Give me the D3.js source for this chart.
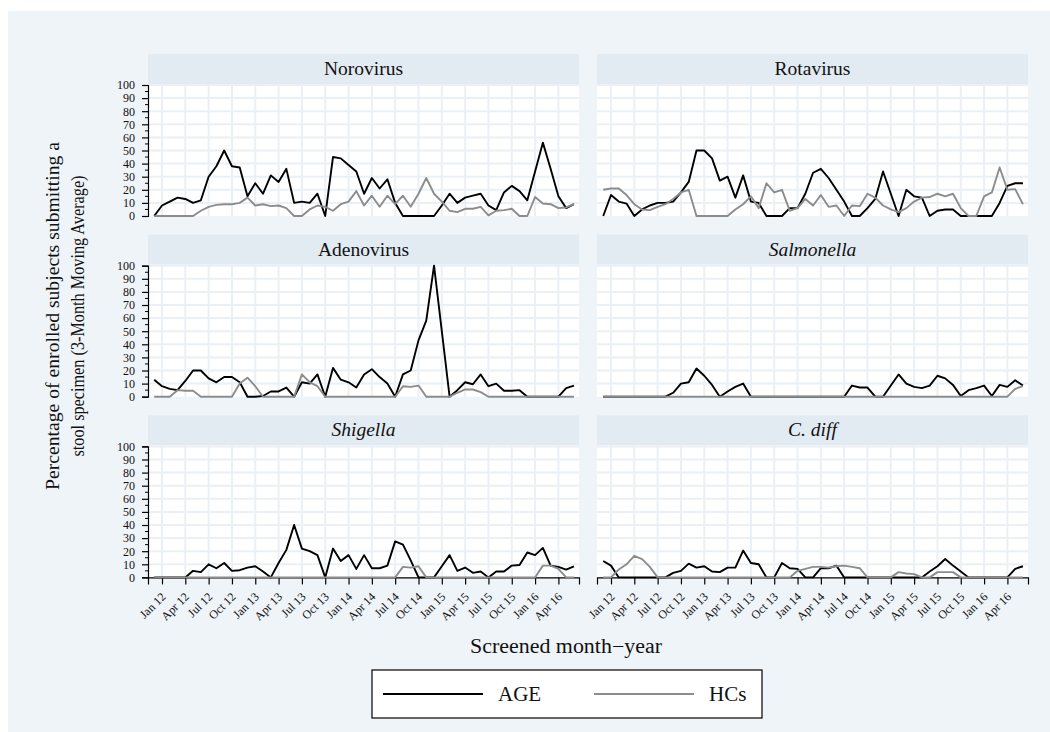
<!DOCTYPE html>
<html>
<head>
<meta charset="utf-8">
<script src="https://cdn.jsdelivr.net/npm/d3@7"></script>
<style>
  body { margin: 0; background: #fff; }
  svg { display: block; font-family: "Liberation Serif", "DejaVu Serif", serif; }
</style>
</head>
<body>
<div id="chart"></div>
<script>
// months Dec 2011 .. Jun 2016 (index 0 = Dec 11)
const months = ['Dec 11',
  'Jan 12','Feb 12','Mar 12','Apr 12','May 12','Jun 12','Jul 12','Aug 12','Sep 12','Oct 12','Nov 12','Dec 12',
  'Jan 13','Feb 13','Mar 13','Apr 13','May 13','Jun 13','Jul 13','Aug 13','Sep 13','Oct 13','Nov 13','Dec 13',
  'Jan 14','Feb 14','Mar 14','Apr 14','May 14','Jun 14','Jul 14','Aug 14','Sep 14','Oct 14','Nov 14','Dec 14',
  'Jan 15','Feb 15','Mar 15','Apr 15','May 15','Jun 15','Jul 15','Aug 15','Sep 15','Oct 15','Nov 15','Dec 15',
  'Jan 16','Feb 16','Mar 16','Apr 16','May 16','Jun 16'];
const tickLabels = ['Jan 12','Apr 12','Jul 12','Oct 12','Jan 13','Apr 13','Jul 13','Oct 13','Jan 14',
  'Apr 14','Jul 14','Oct 14','Jan 15','Apr 15','Jul 15','Oct 15','Jan 16','Apr 16'];
const yTicks = [0,10,20,30,40,50,60,70,80,90,100];

const pathogens = ['Norovirus','Rotavirus','Adenovirus','Salmonella','Shigella','C. diff'];
const italic = ['Salmonella','Shigella','C. diff'];

const noroAGE = [0,8,11,14,13,10,12,30,38,50,38,37,15,25,17,31,26,36,10,11,10,17,0,45,44,39,34,17,29,21,28,10,
  0,0,0,0,0,8,17,10,14,15.5,17,8,4.5,18,23,19,12,34,56,36,15,6,9];
const noroHC = [0,0,0,0,0,0,4,7,8.5,9,9,10,14,8,9,7.5,8,6,0,0,5,8,7,4,9,11,19,8,15.5,7,15.5,9,15.5,7,17,29,
  17,11,4,3,5.5,5.5,7,0.5,4,4.5,5.5,0,0,14.5,9.5,9,6,6.5,9];
const rotaAGE = [0,16,11,9.5,0,5,8,10,10,11,18,26,50,50,44,27,30,14,31,11,10,0,0,0,6,6,17,33,36,29,20,11,
  0,0,6,13,34,17,0,20,15,14,0,4,5,5,0,0,0,0,0,10,23,25,25];
const rotaHC = [20,21,21,16,9,5,4.5,7,9,13,18,20,0,0,0,0,0,5,9,15,6,25,18,20,4,6,13,8,16,7,8,0,8,7.5,17,14,
  8,5,3,6,11,14,14.5,17,15,17,6,0,0,15,18,37,20,20.5,9];
const adenoAGE = [13,8,6,5,12,20,20,14,11,15,15,11,0,0,0.5,4,4,7,0,11,10,17,0,22,13,11,7,17,21,15,10,0,
  17,20,43,58,100,50,0,5,11,9.5,17,8,10,4.5,4.5,5,0,0,0,0,0,6.5,8.5];
const adenoHC = [0,0,0,5,4.5,4.5,0,0,0,0,0,10,14.5,8,0,0,0,0,0,17,11,8,0,0,0,0,0,0,0,0,0,0,8,7.5,8.5,0,
  0,0,0,3,5.5,5.5,3.5,0,0,0,0,0,0,0,0,0,0,0,0];
const salmAGE = [0,0,0,0,0,0,0,0,0,3,10,11,21.5,16,9,0,4,7.5,10,0,0,0,0,0,0,0,0,0,0,0,0,0,8.5,7,7,0,0,
  8.5,17,10,7.5,6.5,8.5,16,14,9,0.5,5,6.5,8.5,0.5,9,7.5,12.5,8.5];
const salmHC = [0,0,0,0,0,0,0,0,0,0,0,0,0,0,0,0,0,0,0,0,0,0,0,0,0,0,0,0,0,0,0,0,0,0,0,0,0,0,0,0,0,0,0,0,
  0,0,0,0,0,0,0,0,0,6,8];
const shigAGE = [0,0,0,0,0,5,4,10,7,11,5,5.5,7.5,8.5,4.5,0,11,21,40,22,20,17,0,22,12.5,17,6.5,17,7,7,9,
  27.5,25,13,0,0,0,8.5,17,5,7.5,3.5,4.5,0,4.5,4.5,9,9.5,19,17,22.5,9,8,6,8.5];
const shigHC = [0,0,0,0,0,0,0,0,0,0,0,0,0,0,0,0,0,0,0,0,0,0,0,0,0,0,0,0,0,0,0,0,8,7.5,8.5,0,0,0,0,0,0,0,
  0,0,0,0,0,0,0,0,9,9,6.5,0,0];
const cdiffAGE = [12.5,9,0,0,0,0,0,0,0,3.5,5,10.5,7.5,8.5,4.5,4,7.5,7.5,20.5,11,10,0,0,11,7,6.5,0,0,7,7,
  9,0,0,0,0,0,0,0,0,0,0,0,4.5,8.5,14,9,4.5,0,0,0,0,0,0,6.5,8.5];
const cdiffHC = [0,0,6,10,16.5,14,8,0,0,0,0,0,0,0,0,0,0,0,0,0,0,0,0,0,0,5,6.5,8,8,7.5,8.5,9,8,7,0,0,0,0,
  4,3,2.5,0,0,4,4,4,0,0,0,0,0,0,0,0,0];

const ageSeries = [noroAGE, rotaAGE, adenoAGE, salmAGE, shigAGE, cdiffAGE];
const hcSeries = [noroHC, rotaHC, adenoHC, salmHC, shigHC, cdiffHC];

const W = 1050, H = 732;
const colX = [148, 597];
const panelW = 431;
const rowTop = [84, 264.7, 445.4];
const stripH = 30;
const plotH = 132;

const svg = d3.select('#chart').append('svg')
  .attr('width', W).attr('height', H);

svg.append('rect')
  .attr('x', 8).attr('y', 11).attr('width', W - 8).attr('height', H - 11)
  .attr('fill', '#eff4f8');

const x = d3.scaleLinear().domain([-0.8, 54.65]).range([0, panelW]);
const y = d3.scaleLinear().domain([0, 100]).range([plotH, 1]);
const tickIdx = tickLabels.map(t => months.indexOf(t));

const line = d3.line()
  .x((d, i) => x(i))
  .y(d => y(d));

pathogens.forEach((name, p) => {
  const r = Math.floor(p / 2), c = p % 2;
  const g = svg.append('g').attr('transform', `translate(${colX[c]},${rowTop[r]})`);

  // strip
  g.append('rect').attr('x', 0).attr('y', -stripH).attr('width', panelW).attr('height', stripH)
    .attr('fill', '#e2eaf2');
  g.append('text').attr('x', panelW / 2).attr('y', -9)
    .attr('text-anchor', 'middle')
    .style('font-size', '19.5px')
    .style('font-style', italic.includes(name) ? 'italic' : 'normal')
    .attr('fill', '#111')
    .text(name);

  // plot area
  g.append('rect').attr('x', 0).attr('y', 0).attr('width', panelW).attr('height', plotH)
    .attr('fill', '#fff');

  // grid
  g.selectAll('.hg').data(yTicks.slice(1)).enter().append('line')
    .attr('x1', 0).attr('x2', panelW)
    .attr('y1', d => y(d)).attr('y2', d => y(d))
    .attr('stroke', '#eaf0f5').attr('stroke-width', 2);
  g.selectAll('.vg').data(tickIdx).enter().append('line')
    .attr('x1', d => x(d)).attr('x2', d => x(d))
    .attr('y1', 0).attr('y2', plotH)
    .attr('stroke', '#eaf0f5').attr('stroke-width', 2);

  // y axis on left column
  if (c === 0) {
    const ya = g.append('g')
      .call(d3.axisLeft(y).tickValues(yTicks).tickSize(6).tickPadding(7));
    ya.select('.domain').attr('stroke', '#000').attr('stroke-width', 1.2);
    ya.selectAll('.tick line').attr('stroke', '#000').attr('stroke-width', 1.2);
    ya.selectAll('text').style('font-size', '12px').attr('fill', '#111')
      .style('font-family', '"Liberation Serif", serif');
    // minor ticks
    g.selectAll('.ym').data([5,15,25,35,45,55,65,75,85,95]).enter().append('line')
      .attr('x1', -3).attr('x2', 0)
      .attr('y1', d => y(d)).attr('y2', d => y(d))
      .attr('stroke', '#000').attr('stroke-width', 1);
  }

  // x axis on bottom row
  if (r === 2) {
    const xa = g.append('g').attr('transform', `translate(0,${y(0)})`)
      .call(d3.axisBottom(x).tickValues(tickIdx).tickSize(7)
        .tickFormat((d, i) => tickLabels[i]));
    xa.select('.domain').attr('stroke', '#000').attr('stroke-width', 1.2);
    xa.selectAll('.tick line').attr('stroke', '#000').attr('stroke-width', 1.2);
    xa.selectAll('text')
      .style('font-size', '12px').attr('fill', '#111')
      .style('font-family', '"Liberation Serif", serif')
      .attr('text-anchor', 'end')
      .attr('dy', null)
      .attr('y', 0)
      .attr('transform', 'translate(4,20) rotate(-45)');
  }

  g.append('path').datum(ageSeries[p])
    .attr('fill', 'none').attr('stroke', '#000').attr('stroke-width', 1.9)
    .attr('stroke-linejoin', 'round')
    .attr('d', line);
  g.append('path').datum(hcSeries[p])
    .attr('fill', 'none').attr('stroke', '#8c8c8c').attr('stroke-width', 1.9)
    .attr('stroke-linejoin', 'round')
    .attr('d', line);
});

// y axis title
svg.append('text')
  .attr('transform', 'translate(59,316) rotate(-90)')
  .attr('text-anchor', 'middle')
  .style('font-size', '19px').attr('fill', '#111')
  .attr('textLength', 348).attr('lengthAdjust', 'spacingAndGlyphs')
  .text('Percentage of enrolled subjects submitting a');
svg.append('text')
  .attr('transform', 'translate(84,316) rotate(-90)')
  .attr('text-anchor', 'middle')
  .style('font-size', '19px').attr('fill', '#111')
  .attr('textLength', 281).attr('lengthAdjust', 'spacingAndGlyphs')
  .text('stool specimen (3-Month Moving Average)');

// x axis title
svg.append('text')
  .attr('x', 566).attr('y', 653)
  .attr('text-anchor', 'middle')
  .style('font-size', '20px').attr('fill', '#111')
  .attr('textLength', 192).attr('lengthAdjust', 'spacingAndGlyphs')
  .text('Screened month\u2212year');

// legend
const legend = svg.append('g');
legend.append('rect').attr('x', 372).attr('y', 670).attr('width', 390).attr('height', 48)
  .attr('fill', '#fff').attr('stroke', '#000').attr('stroke-width', 1.2);
const legendItems = [
  { label: 'AGE', color: '#000', x: 383 },
  { label: 'HCs', color: '#8c8c8c', x: 594 }
];
legendItems.forEach(d => {
  legend.append('line').attr('x1', d.x).attr('x2', d.x + 100).attr('y1', 694).attr('y2', 694)
    .attr('stroke', d.color).attr('stroke-width', 1.8);
  legend.append('text').attr('x', d.x + 115).attr('y', 701)
    .style('font-size', '21px').attr('fill', '#111')
    .text(d.label);
});
</script>
</body>
</html>
